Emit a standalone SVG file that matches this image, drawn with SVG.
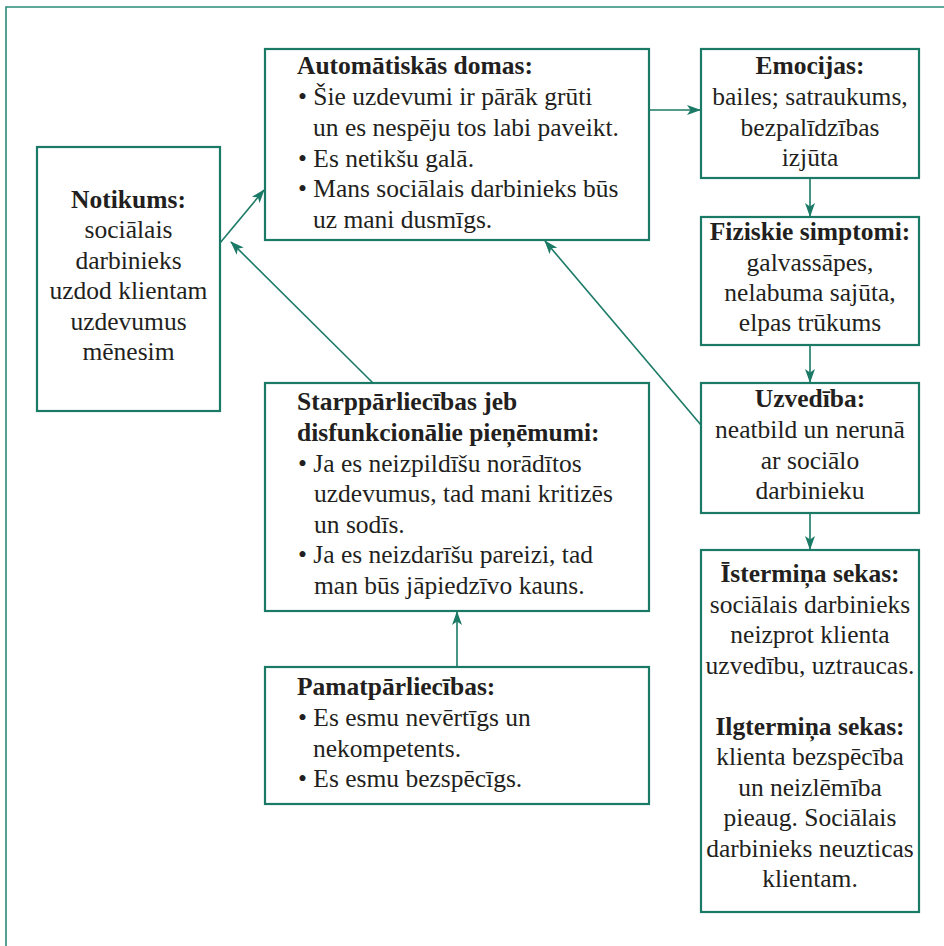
<svg xmlns="http://www.w3.org/2000/svg" width="944" height="946" viewBox="0 0 944 946">
  <style>
    .frame { fill: none; stroke: #2a8a78; stroke-width: 1.6; }
    .box { fill: #ffffff; stroke: #1b7a66; stroke-width: 2.2; }
    .link { fill: none; stroke: #1b7a66; stroke-width: 1.6; }
    .t { font-family: "Liberation Serif", "Times New Roman", serif; font-size: 25.5px; fill: #231f20; }
    .b { font-weight: bold; }
    .c { text-anchor: middle; }
  </style>
  <defs>
    <marker id="arrow" viewBox="0 0 14 10" refX="13" refY="5" markerWidth="14" markerHeight="10" markerUnits="userSpaceOnUse" orient="auto">
      <path d="M0,0 L14,5 L0,10 L3.5,5 z" fill="#1b7a66"/>
    </marker>
  </defs>

  <rect width="944" height="946" fill="#ffffff"/>
  <!-- open page frame -->
  <path class="frame" d="M6,946 V7 H944"/>

  <!-- connectors -->
  <g id="connectors">
    <line class="link" x1="220" y1="243" x2="264" y2="190" marker-end="url(#arrow)"/>
    <line class="link" x1="373" y1="383" x2="231" y2="242" marker-end="url(#arrow)"/>
    <line class="link" x1="701" y1="425" x2="545" y2="241" marker-end="url(#arrow)"/>
    <line class="link" x1="649" y1="110" x2="700" y2="110" marker-end="url(#arrow)"/>
    <line class="link" x1="810" y1="178" x2="810" y2="216" marker-end="url(#arrow)"/>
    <line class="link" x1="810" y1="345" x2="810" y2="382" marker-end="url(#arrow)"/>
    <line class="link" x1="810" y1="513" x2="810" y2="549" marker-end="url(#arrow)"/>
    <line class="link" x1="457" y1="667" x2="457" y2="612" marker-end="url(#arrow)"/>
  </g>

  <g class="t">
  <g id="notikums">
    <rect class="box" x="37" y="147" width="183" height="264"/>
    <text class="c b" x="128.5" y="208">Notikums:</text>
    <text class="c" x="128.5" y="238">sociālais</text>
    <text class="c" x="128.5" y="268.5">darbinieks</text>
    <text class="c" x="128.5" y="299">uzdod klientam</text>
    <text class="c" x="128.5" y="329.5">uzdevumus</text>
    <text class="c" x="128.5" y="360">mēnesim</text>
  </g>

  <g id="automatiskas-domas">
    <rect class="box" x="265" y="49" width="384" height="191"/>
    <text class="b" x="297" y="74">Automātiskās domas:</text>
    <text x="298" y="105">• Šie uzdevumi ir pārāk grūti</text>
    <text x="313" y="136">un es nespēju tos labi paveikt.</text>
    <text x="298" y="166.5">• Es netikšu galā.</text>
    <text x="298" y="197">• Mans sociālais darbinieks būs</text>
    <text x="313" y="227.5">uz mani dusmīgs.</text>
  </g>

  <g id="emocijas">
    <rect class="box" x="701" y="49" width="218" height="129"/>
    <text class="c b" x="810" y="74">Emocijas:</text>
    <text class="c" x="810" y="105">bailes; satraukums,</text>
    <text class="c" x="810" y="135.5">bezpalīdzības</text>
    <text class="c" x="810" y="166">izjūta</text>
  </g>

  <g id="fiziskie-simptomi">
    <rect class="box" x="701" y="217" width="218" height="128"/>
    <text class="c b" x="810" y="240">Fiziskie simptomi:</text>
    <text class="c" x="810" y="270.5">galvassāpes,</text>
    <text class="c" x="810" y="301">nelabuma sajūta,</text>
    <text class="c" x="810" y="331">elpas trūkums</text>
  </g>

  <g id="uzvediba">
    <rect class="box" x="701" y="383" width="218" height="130"/>
    <text class="c b" x="810" y="407">Uzvedība:</text>
    <text class="c" x="810" y="438">neatbild un nerunā</text>
    <text class="c" x="810" y="468.5">ar sociālo</text>
    <text class="c" x="810" y="499">darbinieku</text>
  </g>

  <g id="sekas">
    <rect class="box" x="701" y="550" width="218" height="362"/>
    <text class="c b" x="810" y="582">Īstermiņa sekas:</text>
    <text class="c" x="810" y="612.5">sociālais darbinieks</text>
    <text class="c" x="810" y="643">neizprot klienta</text>
    <text class="c" x="810" y="673.5">uzvedību, uztraucas.</text>
    <text class="c b" x="810" y="734.5">Ilgtermiņa sekas:</text>
    <text class="c" x="810" y="765">klienta bezspēcība</text>
    <text class="c" x="810" y="795.5">un neizlēmība</text>
    <text class="c" x="810" y="826">pieaug. Sociālais</text>
    <text class="c" x="810" y="856.5">darbinieks neuzticas</text>
    <text class="c" x="810" y="887">klientam.</text>
  </g>

  <g id="starpparliecibas">
    <rect class="box" x="265" y="383" width="384" height="228"/>
    <text class="b" x="297" y="410">Starppārliecības jeb</text>
    <text class="b" x="297" y="441">disfunkcionālie pieņēmumi:</text>
    <text x="298" y="471.5">• Ja es neizpildīšu norādītos</text>
    <text x="314" y="502">uzdevumus, tad mani kritizēs</text>
    <text x="314" y="532.5">un sodīs.</text>
    <text x="298" y="563">• Ja es neizdarīšu pareizi, tad</text>
    <text x="314" y="593.5">man būs jāpiedzīvo kauns.</text>
  </g>

  <g id="pamatparliecibas">
    <rect class="box" x="265" y="667" width="384" height="137"/>
    <text class="b" x="297" y="695">Pamatpārliecības:</text>
    <text x="298" y="726">• Es esmu nevērtīgs un</text>
    <text x="313" y="756.5">nekompetents.</text>
    <text x="298" y="787">• Es esmu bezspēcīgs.</text>
  </g>
  </g>
</svg>
